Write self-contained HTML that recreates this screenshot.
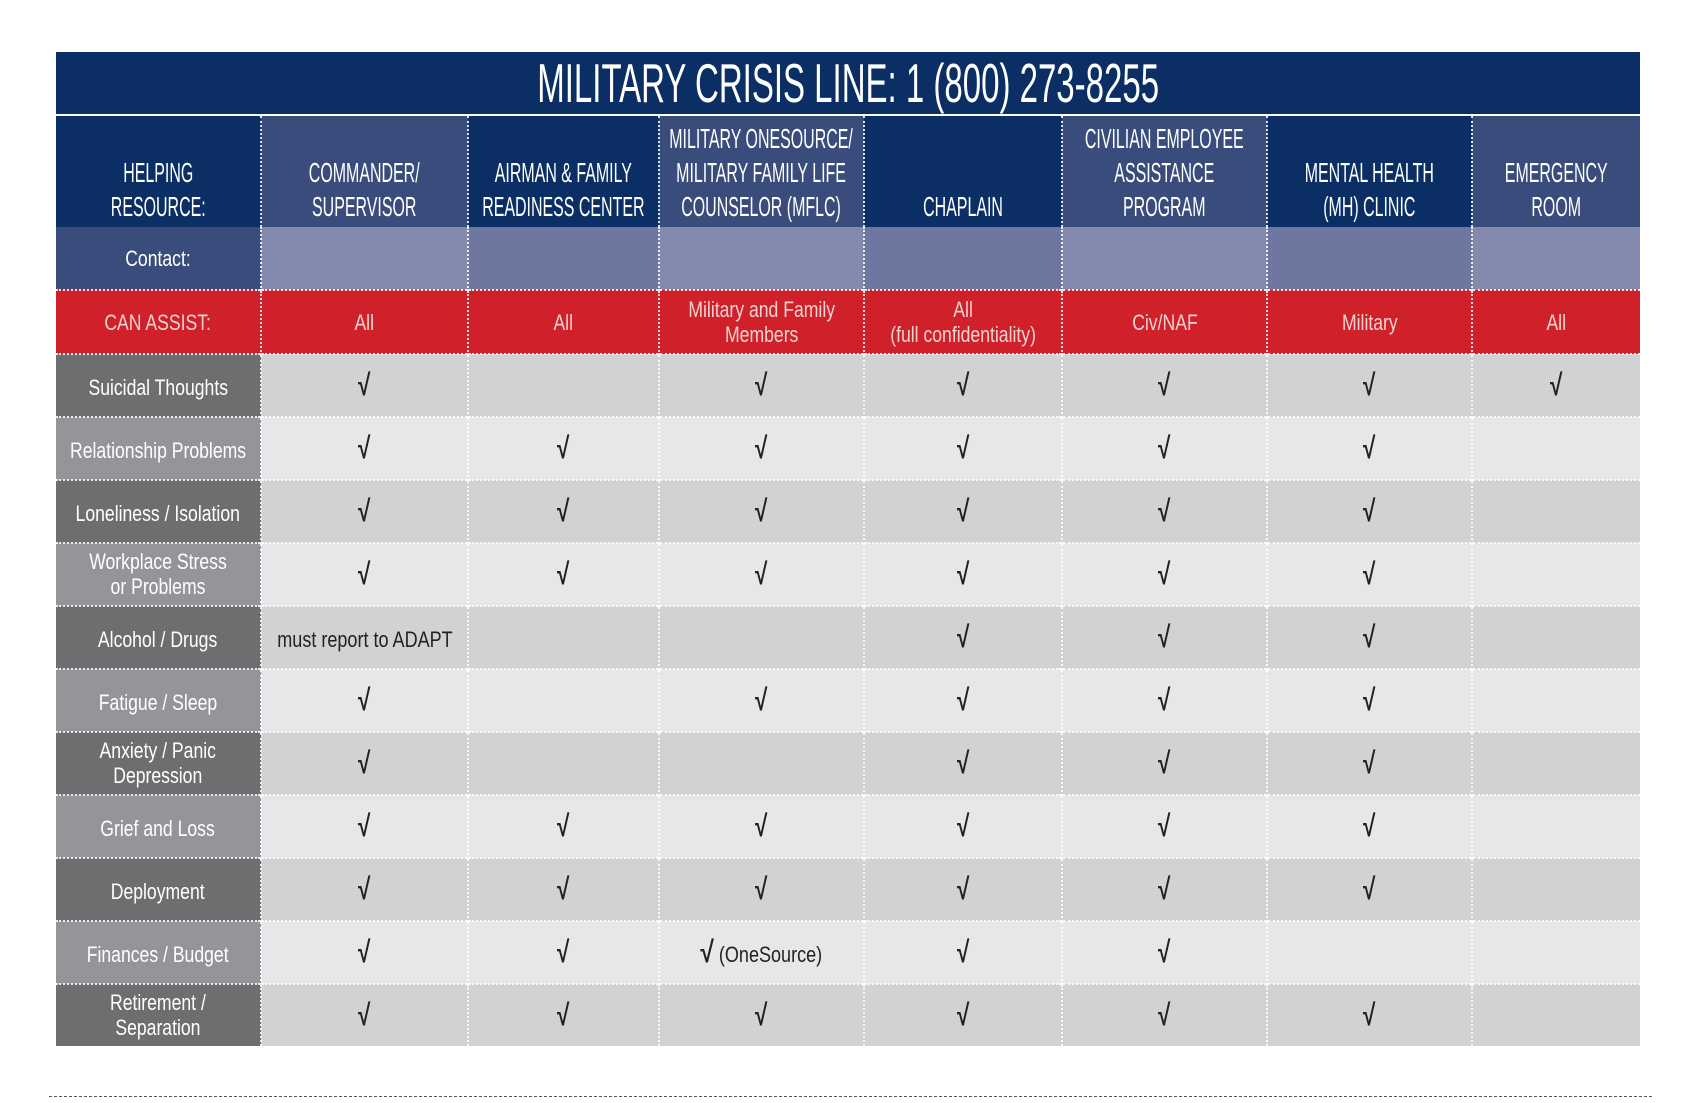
<!DOCTYPE html>
<html><head><meta charset="utf-8">
<style>
body{margin:0;width:1694px;height:1103px;background:#fff;position:relative;overflow:hidden;font-family:"Liberation Sans",sans-serif;}
#title{position:absolute;left:56px;top:52px;width:1584px;height:62px;background:#0b2f64;color:#fff;text-align:center;}
#title span{display:inline-block;font-size:55px;line-height:62px;transform:scaleX(0.6);transform-origin:center;white-space:nowrap;margin:0 -300px;}
table{position:absolute;left:56px;top:114px;border-collapse:collapse;table-layout:fixed;width:1584px;}
td{padding:0;text-align:center;vertical-align:middle;border-left:2px dotted rgba(255,255,255,0.85);border-top:2px dotted rgba(255,255,255,0.85);white-space:nowrap;}
td:first-child{border-left:none;}
td span{display:inline-block;white-space:nowrap;margin:0 -100px;transform-origin:center;}
tr.h td{height:111px;color:#fff;border-top:2px solid #fff;vertical-align:bottom;}
tr.h td span{font-size:28px;line-height:34px;transform:scaleX(0.57);padding-bottom:3px;}
tr.c td{height:62px;border-top:none;}
tr.a td{height:62px;background:#d0202a;color:#f3d2d0;}
.t{font-size:22px;line-height:25px;transform:scaleX(0.8);}
tr.r td{height:61px;font-size:28px;color:#222;}
tr.r td:first-child{color:#fff;}
.ck{font-size:30px;font-weight:bold;color:#222;transform:scaleX(0.75);}
.bt{font-size:22px;line-height:25px;transform:scaleX(0.82);color:#222}
.d0{background:#0b2f64}.d1{background:#3a4c7c}
.c0{background:#3a4c7c}.c1{background:#8289ad}.c2{background:#6e779f}
tr.o td{background:#d1d2d4}tr.o td:first-child{background:#6d6e70}
tr.e td{background:#e6e7e8}tr.e td:first-child{background:#939598}
#dash{position:absolute;left:49px;top:1096px;width:1603px;border-top:1.5px dashed #555;}
</style></head><body>
<div id="title"><span>MILITARY CRISIS LINE: 1 (800) 273-8255</span></div>
<table>
<colgroup><col style="width:205px"><col style="width:207px"><col style="width:191px"><col style="width:205px"><col style="width:198px"><col style="width:205px"><col style="width:205px"><col style="width:168px"></colgroup>
<tr class="h">
<td class="d0"><span>HELPING<br>RESOURCE:</span></td>
<td class="d1"><span>COMMANDER/<br>SUPERVISOR</span></td>
<td class="d0"><span>AIRMAN &amp; FAMILY<br>READINESS CENTER</span></td>
<td class="d1"><span>MILITARY ONESOURCE/<br>MILITARY FAMILY LIFE<br>COUNSELOR (MFLC)</span></td>
<td class="d0"><span>CHAPLAIN</span></td>
<td class="d1"><span>CIVILIAN EMPLOYEE<br>ASSISTANCE<br>PROGRAM</span></td>
<td class="d0"><span>MENTAL HEALTH<br>(MH) CLINIC</span></td>
<td class="d1"><span>EMERGENCY<br>ROOM</span></td>
</tr>
<tr class="c">
<td class="c0" style="color:#fff"><span class="t">Contact:</span></td>
<td class="c1"></td><td class="c2"></td><td class="c1"></td><td class="c2"></td><td class="c1"></td><td class="c2"></td><td class="c1"></td>
</tr>
<tr class="a">
<td><span class="t">CAN ASSIST:</span></td>
<td><span class="t">All</span></td>
<td><span class="t">All</span></td>
<td><span class="t">Military and Family<br>Members</span></td>
<td><span class="t">All<br>(full confidentiality)</span></td>
<td><span class="t">Civ/NAF</span></td>
<td><span class="t">Military</span></td>
<td><span class="t">All</span></td>
</tr>
<tr class="r o"><td><span class="t">Suicidal Thoughts</span></td><td><span class="ck">√</span></td><td></td><td><span class="ck">√</span></td><td><span class="ck">√</span></td><td><span class="ck">√</span></td><td><span class="ck">√</span></td><td><span class="ck">√</span></td></tr>
<tr class="r e"><td><span class="t">Relationship Problems</span></td><td><span class="ck">√</span></td><td><span class="ck">√</span></td><td><span class="ck">√</span></td><td><span class="ck">√</span></td><td><span class="ck">√</span></td><td><span class="ck">√</span></td><td></td></tr>
<tr class="r o"><td><span class="t">Loneliness / Isolation</span></td><td><span class="ck">√</span></td><td><span class="ck">√</span></td><td><span class="ck">√</span></td><td><span class="ck">√</span></td><td><span class="ck">√</span></td><td><span class="ck">√</span></td><td></td></tr>
<tr class="r e"><td><span class="t">Workplace Stress<br>or Problems</span></td><td><span class="ck">√</span></td><td><span class="ck">√</span></td><td><span class="ck">√</span></td><td><span class="ck">√</span></td><td><span class="ck">√</span></td><td><span class="ck">√</span></td><td></td></tr>
<tr class="r o"><td><span class="t">Alcohol / Drugs</span></td><td><span class="bt">must report to ADAPT</span></td><td></td><td></td><td><span class="ck">√</span></td><td><span class="ck">√</span></td><td><span class="ck">√</span></td><td></td></tr>
<tr class="r e"><td><span class="t">Fatigue / Sleep</span></td><td><span class="ck">√</span></td><td></td><td><span class="ck">√</span></td><td><span class="ck">√</span></td><td><span class="ck">√</span></td><td><span class="ck">√</span></td><td></td></tr>
<tr class="r o"><td><span class="t">Anxiety / Panic<br>Depression</span></td><td><span class="ck">√</span></td><td></td><td></td><td><span class="ck">√</span></td><td><span class="ck">√</span></td><td><span class="ck">√</span></td><td></td></tr>
<tr class="r e"><td><span class="t">Grief and Loss</span></td><td><span class="ck">√</span></td><td><span class="ck">√</span></td><td><span class="ck">√</span></td><td><span class="ck">√</span></td><td><span class="ck">√</span></td><td><span class="ck">√</span></td><td></td></tr>
<tr class="r o"><td><span class="t">Deployment</span></td><td><span class="ck">√</span></td><td><span class="ck">√</span></td><td><span class="ck">√</span></td><td><span class="ck">√</span></td><td><span class="ck">√</span></td><td><span class="ck">√</span></td><td></td></tr>
<tr class="r e"><td><span class="t">Finances / Budget</span></td><td><span class="ck">√</span></td><td><span class="ck">√</span></td><td><span class="bt"><b style="font-size:30px">√</b> (OneSource)</span></td><td><span class="ck">√</span></td><td><span class="ck">√</span></td><td></td><td></td></tr>
<tr class="r o"><td><span class="t">Retirement /<br>Separation</span></td><td><span class="ck">√</span></td><td><span class="ck">√</span></td><td><span class="ck">√</span></td><td><span class="ck">√</span></td><td><span class="ck">√</span></td><td><span class="ck">√</span></td><td></td></tr>
</table>
<div id="dash"></div>
</body></html>
